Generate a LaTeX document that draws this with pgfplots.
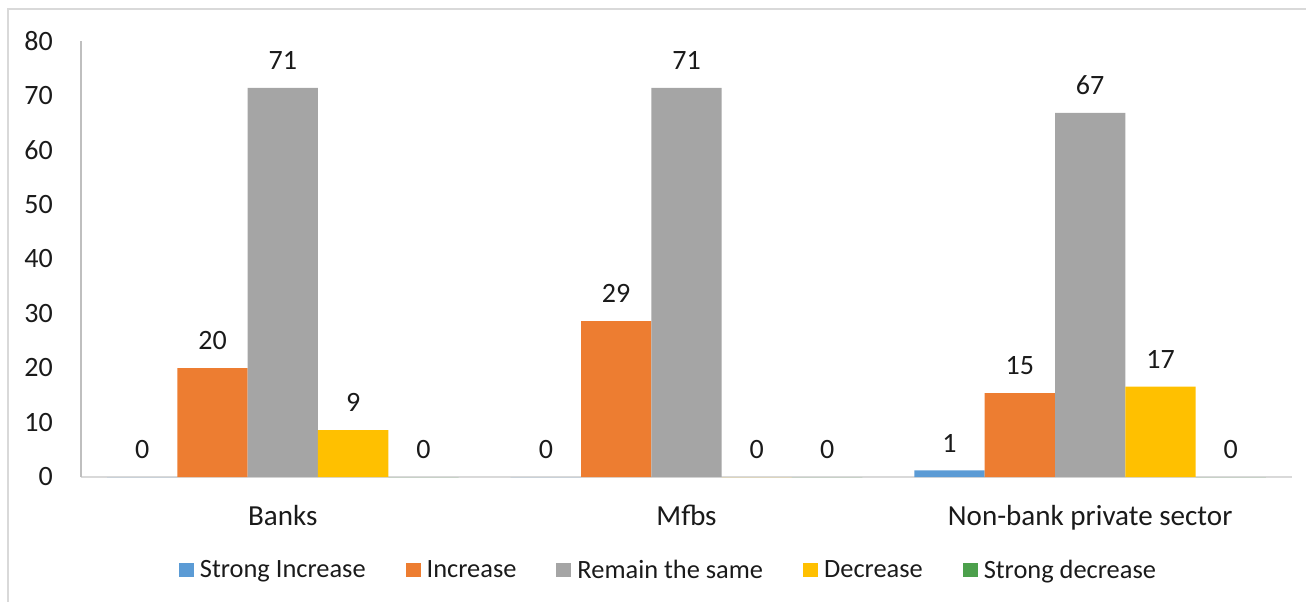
\documentclass[border=0pt]{standalone}
\usepackage{pgfplots}
\pgfplotsset{compat=1.18}
\usepackage{fontspec}
\setmainfont{Carlito}
\definecolor{cBlue}{HTML}{5B9BD5}
\definecolor{cOrange}{HTML}{ED7D31}
\definecolor{cGray}{HTML}{A5A5A5}
\definecolor{cYellow}{HTML}{FFC000}
\definecolor{cGreen}{HTML}{4CA04C}
\definecolor{cTxt}{HTML}{1A1A1A}
\begin{document}
\begin{tikzpicture}[font=\fontsize{21}{25}\selectfont]
\useasboundingbox (0pt,0pt) rectangle (979.5pt,-451.5pt);
\draw[color=black!15, line width=1.5pt] (6pt,-6.75pt) rectangle (1000pt,-470pt);
\begin{axis}[
  at={(60.75pt,-357.75pt)}, anchor=south west,
  scale only axis, width=908.25pt, height=327pt,
  xmin=-0.5, xmax=2.5, ymin=0, ymax=80,
  enlargelimits=false,
  axis lines*=left,
  x axis line style={draw=black!15, line width=1.2pt},
  y axis line style={draw=black!25, line width=0.9pt},
  major tick length=0pt,
  xtick={0,1,2},
  xticklabels={Banks,Mfbs,Non-bank private sector},
  ytick={0,10,...,80},
  /pgf/number format/assume math mode=true,
  xticklabel style={anchor=base, yshift=-36pt, inner sep=0pt, text=cTxt,
     font=\fontsize{21.8}{25}\selectfont},
  yticklabel style={anchor=east, xshift=-21pt, inner sep=0pt, text=cTxt},
  ybar, bar width=0.1742,
  every axis plot/.append style={draw=none},
  nodes near coords,
  nodes near coords style={anchor=base, yshift=13.75pt, inner sep=0pt, text=cTxt,
     /pgf/number format/.cd, fixed, precision=0, assume math mode=true},
  legend columns=5,
  legend style={draw=none, fill=none, inner sep=0pt, outer sep=0pt,
     at={(0.0809,-0.2133)}, anchor=west,
     font=\fontsize{19.8}{24}\selectfont,
     nodes={inner sep=0pt, text=cTxt},
     /tikz/every odd column/.style={column sep=4.5pt},
     /tikz/every even column/.style={column sep=30pt}},
  legend image code/.code={\fill[#1] (0pt,-5.4pt) rectangle (11.25pt,5.4pt);},
]
\addplot[fill=cBlue, bar shift=-0.3484] coordinates {(0,0) (1,0) (2,1.2)};
\addplot[fill=cOrange, bar shift=-0.1742] coordinates {(0,20.0) (1,28.6) (2,15.4)};
\addplot[fill=cGray, bar shift=0] coordinates {(0,71.4) (1,71.4) (2,66.8)};
\addplot[fill=cYellow, bar shift=0.1742] coordinates {(0,8.6) (1,0) (2,16.6)};
\addplot[fill=cGreen, bar shift=0.3484] coordinates {(0,0) (1,0) (2,0)};
\legend{Strong Increase, Increase, Remain the same, Decrease, Strong decrease}
\end{axis}
\end{tikzpicture}
\end{document}
